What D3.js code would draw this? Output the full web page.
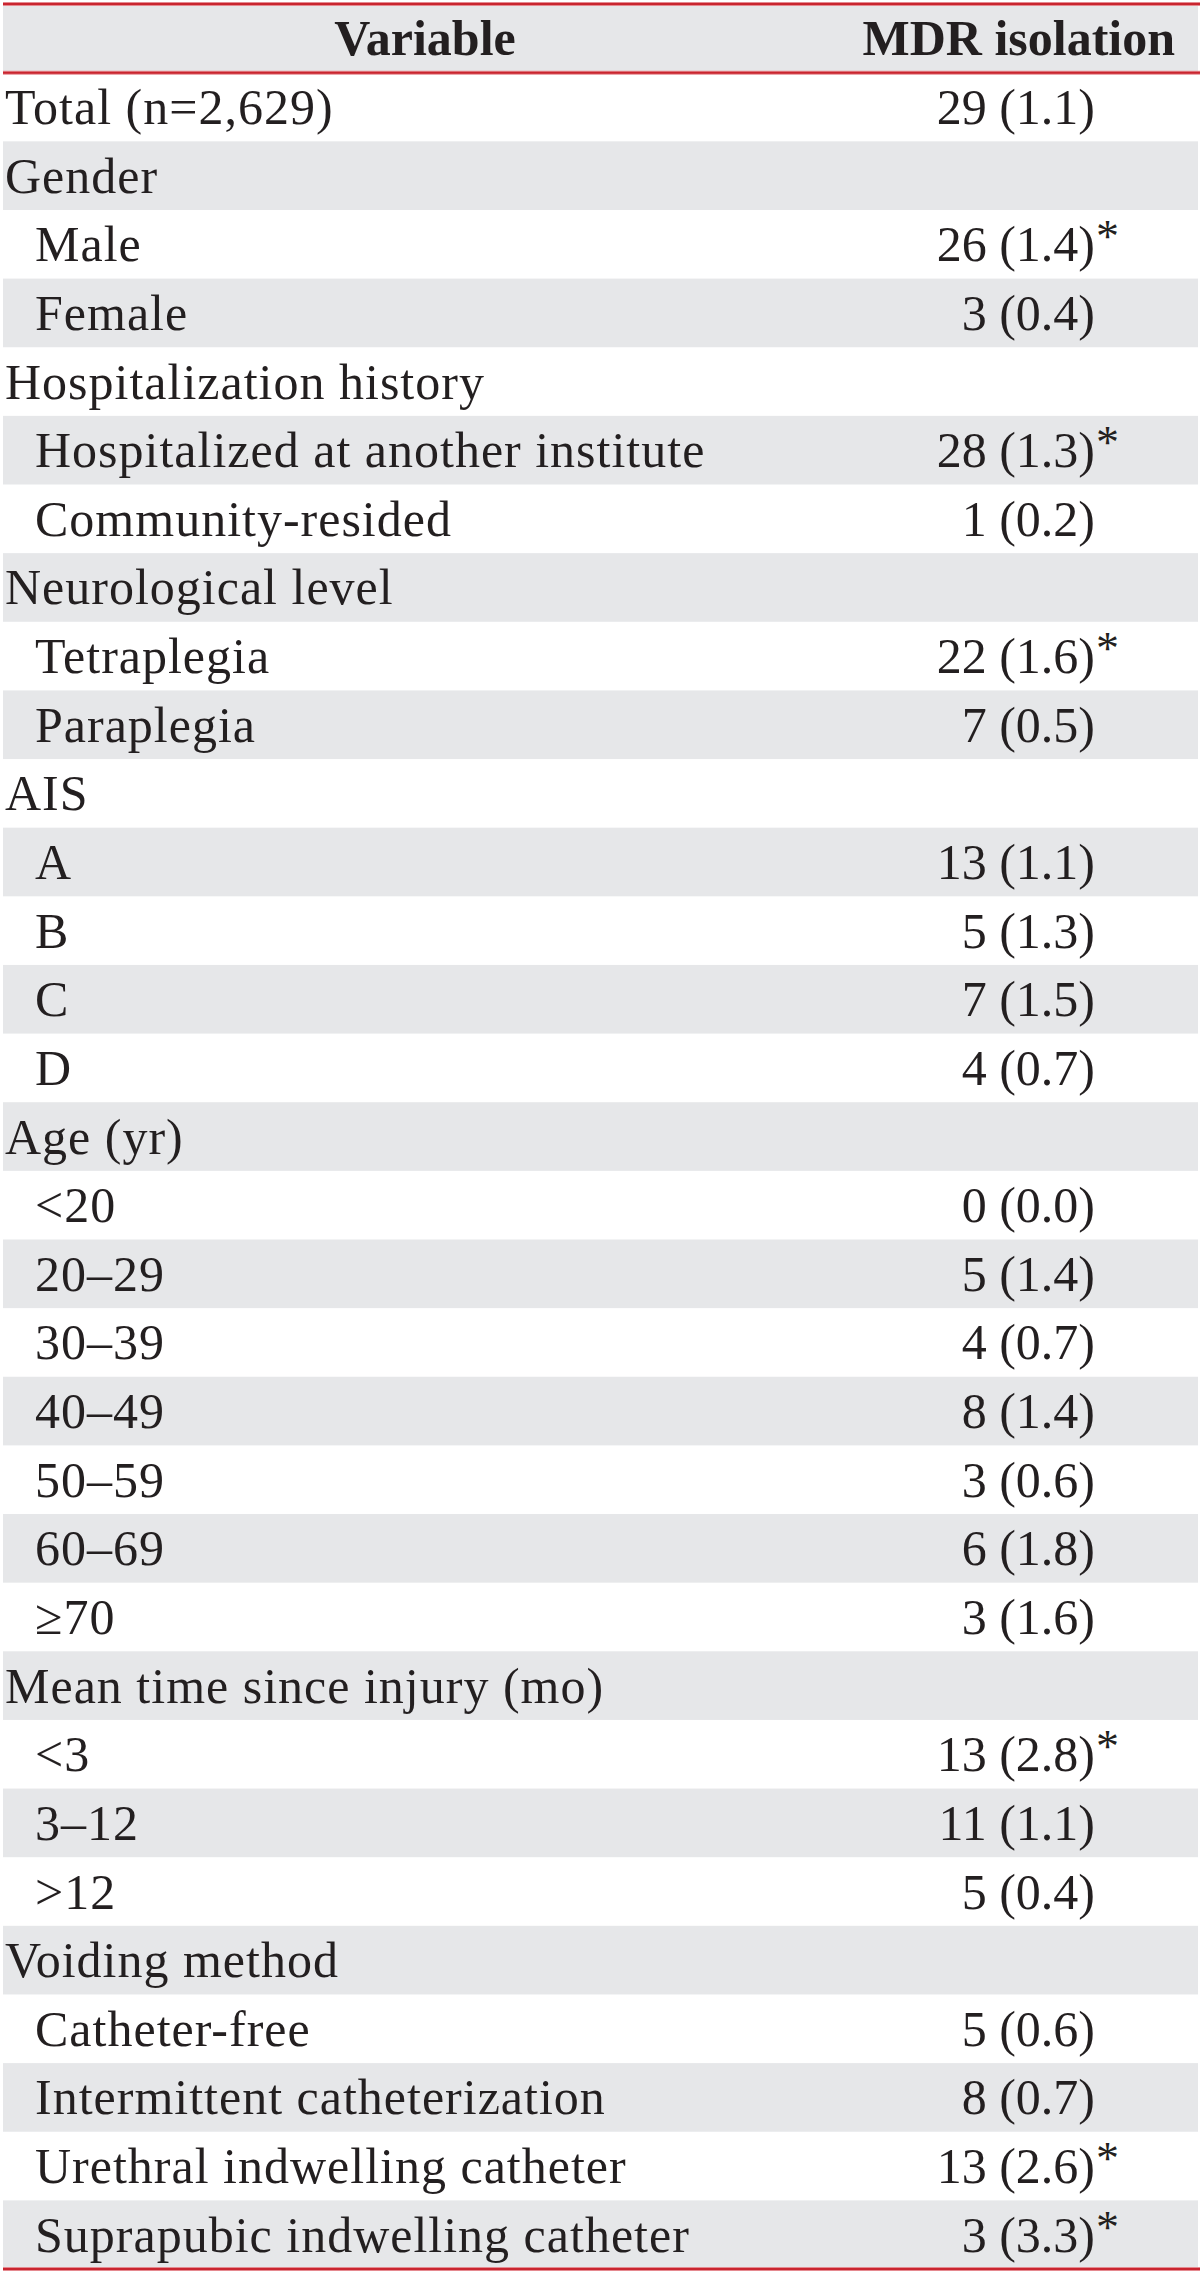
<!DOCTYPE html>
<html>
<head>
<meta charset="utf-8">
<script src="https://cdn.jsdelivr.net/npm/d3@7"></script>
<style>
  html, body { margin: 0; padding: 0; background: #ffffff; }
  svg { display: block; }
</style>
</head>
<body>
<div id="chart"></div>
<script>
// ---- Data ----
const headers = ["Variable", "MDR isolation"];
const labels = [
  "Total (n=2,629)", "Gender", "Male", "Female",
  "Hospitalization history", "Hospitalized at another institute", "Community-resided",
  "Neurological level", "Tetraplegia", "Paraplegia",
  "AIS", "A", "B", "C", "D",
  "Age (yr)", "<20", "20\u201329", "30\u201339", "40\u201349", "50\u201359", "60\u201369", "\u226570",
  "Mean time since injury (mo)", "<3", "3\u201312", ">12",
  "Voiding method", "Catheter-free", "Intermittent catheterization",
  "Urethral indwelling catheter", "Suprapubic indwelling catheter"
];
const indentLevels = [0,0,1,1, 0,1,1, 0,1,1, 0,1,1,1,1, 0,1,1,1,1,1,1,1, 0,1,1,1, 0,1,1,1,1];
const counts = [29,null,26,3, null,28,1, null,22,7, null,13,5,7,4, null,0,5,4,8,3,6,3, null,13,11,5, null,5,8,13,3];
const percents = [1.1,null,1.4,0.4, null,1.3,0.2, null,1.6,0.5, null,1.1,1.3,1.5,0.7, null,0.0,1.4,0.7,1.4,0.6,1.8,1.6, null,2.8,1.1,0.4, null,0.6,0.7,2.6,3.3];
const significant = [false,false,true,false, false,true,false, false,true,false, false,false,false,false,false, false,false,false,false,false,false,false,false, false,true,false,false, false,false,false,true,true];

// ---- Layout ----
const W = 1200, H = 2274;
const left = 3, right = 1198;
const topLine = 4, headerBottom = 72.7, tableBottom = 2269;
const fontFamily = "'Liberation Serif', 'Times New Roman', serif";
const fontSize = 50;
const gray = "#e6e7e9";
const red = "#c9252f";

const rows = labels.map((l, i) => ({
  label: l, level: indentLevels[i], n: counts[i], p: percents[i], sig: significant[i], i
}));

const y = d3.scaleBand()
  .domain(rows.map(d => d.i))
  .range([headerBottom, tableBottom])
  .paddingInner(0).paddingOuter(0);

const svg = d3.select("#chart").append("svg")
  .attr("width", W).attr("height", H);

// header background
svg.append("rect")
  .attr("x", left).attr("y", topLine)
  .attr("width", right - left).attr("height", headerBottom - topLine)
  .attr("fill", gray);

// row backgrounds
svg.append("g").selectAll("rect")
  .data(rows.filter(d => d.i % 2 === 1))
  .join("rect")
  .attr("x", left).attr("y", d => y(d.i))
  .attr("width", right - left).attr("height", y.bandwidth())
  .attr("fill", gray);

// header texts
const hdrY = (topLine + headerBottom) / 2 + 17;
svg.append("text")
  .attr("x", 425).attr("y", hdrY)
  .attr("text-anchor", "middle")
  .attr("font-family", fontFamily).attr("font-size", fontSize).attr("font-weight", "bold")
  .attr("fill", "#231f20")
  .text(headers[0]);
svg.append("text")
  .attr("x", 1175).attr("y", hdrY)
  .attr("text-anchor", "end")
  .attr("font-family", fontFamily).attr("font-size", fontSize).attr("font-weight", "bold")
  .attr("fill", "#231f20")
  .text(headers[1]);

// labels
const gRows = svg.append("g");
gRows.selectAll("text.label")
  .data(rows)
  .join("text")
  .attr("class", "label")
  .attr("x", d => d.level === 0 ? 5 : 35)
  .attr("y", d => y(d.i) + y.bandwidth() / 2 + 17)
  .attr("font-family", fontFamily).attr("font-size", fontSize)
  .attr("letter-spacing", 1)
  .attr("fill", "#231f20")
  .text(d => d.label);

// values
const valRows = rows.filter(d => d.n !== null);
gRows.selectAll("text.val")
  .data(valRows)
  .join("text")
  .attr("class", "val")
  .attr("x", 1095)
  .attr("y", d => y(d.i) + y.bandwidth() / 2 + 17)
  .attr("text-anchor", "end")
  .attr("font-family", fontFamily).attr("font-size", fontSize)
  .attr("fill", "#231f20")
  .text(d => `${d.n} (${d.p.toFixed(1)})`);

gRows.selectAll("text.sig")
  .data(valRows.filter(d => d.sig))
  .join("text")
  .attr("class", "sig")
  .attr("x", 1096)
  .attr("y", d => y(d.i) + y.bandwidth() / 2 + 8)
  .attr("font-family", fontFamily).attr("font-size", 46)
  .attr("fill", "#231f20")
  .text("*");

// red rules
[topLine, headerBottom, tableBottom].forEach(yy => {
  svg.append("line")
    .attr("x1", left).attr("x2", right + 2)
    .attr("y1", yy).attr("y2", yy)
    .attr("stroke", "#e58a90").attr("stroke-width", 4);
  svg.append("line")
    .attr("x1", left).attr("x2", right + 2)
    .attr("y1", yy).attr("y2", yy)
    .attr("stroke", red).attr("stroke-width", 2);
});
</script>
</body>
</html>
